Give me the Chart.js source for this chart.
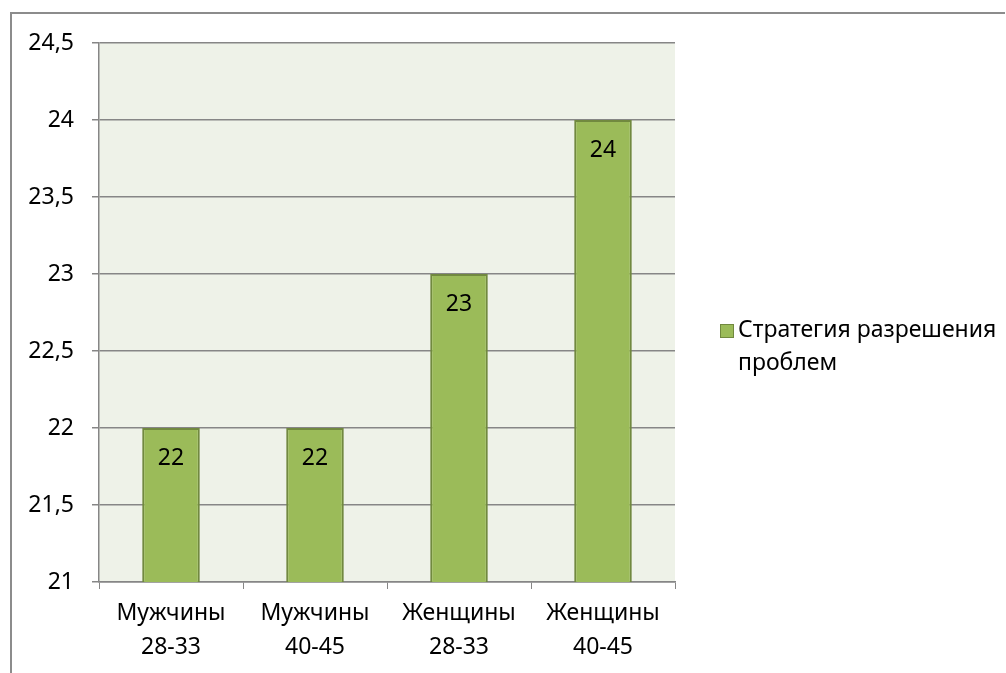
<!DOCTYPE html>
<html>
<head>
<meta charset="utf-8">
<script src="https://cdn.jsdelivr.net/npm/chart.js@4/dist/chart.umd.min.js"></script>
<style>
  html, body { margin: 0; padding: 0; background: #fff; }
  #wrap { width: 1006px; height: 673px; position: relative; }
</style>
</head>
<body>
<div id="wrap"><canvas id="chart" width="1006" height="673"></canvas></div>
<script>
// Survey chart - coping strategy scores by group

const categories = [['Мужчины', '28-33'], ['Мужчины', '40-45'], ['Женщины', '28-33'], ['Женщины', '40-45']];
const seriesName = ['Стратегия разрешения', 'проблем'];
const values = [22, 22, 23, 24];
const yTicks = [21, 21.5, 22, 22.5, 23, 23.5, 24, 24.5];

const FONT = '"Noto Sans", "Open Sans", sans-serif';
const FONT_SIZE = 23;
const GRID = '#868686';
const BAR_FILL = '#9BBB59';
const BAR_EDGE = '#71893F';

/**
 * Frame + plot background
 */
const framePlugin = {
    id: 'frame',
    beforeDraw(chart) {
        const { ctx, chartArea } = chart;
        ctx.save();
        ctx.fillStyle = '#EEF2E8';
        ctx.fillRect(chartArea.left, chartArea.top, chartArea.right - chartArea.left, chartArea.bottom - chartArea.top);
        ctx.strokeStyle = '#8c8c8c';
        ctx.lineWidth = 2;
        ctx.beginPath();
        ctx.moveTo(11, 700);
        ctx.lineTo(11, 13);
        ctx.lineTo(1005, 13);
        ctx.stroke();
        ctx.restore();
    }
};

/**
 * Value labels inside bar tops
 */
const valueLabels = {
    id: 'valueLabels',
    afterDatasetsDraw(chart) {
        const { ctx } = chart;
        const meta = chart.getDatasetMeta(0);
        ctx.save();
        ctx.font = FONT_SIZE + 'px ' + FONT;
        ctx.fillStyle = '#000';
        ctx.textAlign = 'center';
        ctx.textBaseline = 'middle';
        meta.data.forEach((bar, i) => {
            ctx.fillText(String(values[i]), bar.x, bar.y + 30);
        });
        ctx.restore();
    }
};

/**
 * Legend on the right, wrapped on two lines
 */
const sideLegend = {
    id: 'sideLegend',
    afterDraw(chart) {
        const { ctx } = chart;
        ctx.save();
        ctx.fillStyle = BAR_FILL;
        ctx.strokeStyle = BAR_EDGE;
        ctx.lineWidth = 1;
        ctx.fillRect(720, 324, 13, 13);
        ctx.strokeRect(720.5, 324.5, 13, 13);
        ctx.font = FONT_SIZE + 'px ' + FONT;
        ctx.fillStyle = '#000';
        ctx.textAlign = 'left';
        ctx.textBaseline = 'middle';
        seriesName.forEach((line, i) => ctx.fillText(line, 738, 330 + i * 33));
        ctx.restore();
    }
};

new Chart(document.getElementById('chart'), {
    type: 'bar',
    data: {
        labels: categories,
        datasets: [{
            label: seriesName.join(' '),
            data: values,
            backgroundColor: BAR_FILL,
            borderColor: BAR_EDGE,
            borderWidth: 2,
            barPercentage: 0.4,
            categoryPercentage: 1
        }]
    },
    options: {
        responsive: false,
        animation: false,
        layout: { padding: { left: 0, top: 43, right: 331, bottom: 0 } },
        plugins: {
            legend: { display: false },
            tooltip: { enabled: false }
        },
        scales: {
            x: {
                offset: true,
                grid: { offset: true, drawOnChartArea: false, color: GRID, tickLength: 7 },
                border: { color: GRID, width: 1.5 },
                ticks: { color: '#000', font: { family: FONT, size: FONT_SIZE, lineHeight: 1.45 }, padding: 8, maxRotation: 0 },
                afterFit(scale) { scale.height = 91; }
            },
            y: {
                min: 21,
                max: 24.5,
                afterBuildTicks(scale) { scale.ticks = yTicks.map(v => ({ value: v })); },
                grid: { color: GRID, lineWidth: 1.5, tickLength: 7 },
                border: { color: GRID, width: 1.5 },
                ticks: {
                    color: '#000',
                    padding: 18,
                    font: { family: FONT, size: FONT_SIZE },
                    callback: v => String(v).replace('.', ',')
                },
                afterFit(scale) { scale.width = 99; }
            }
        }
    },
    plugins: [framePlugin, valueLabels, sideLegend]
});
</script>
</body>
</html>
